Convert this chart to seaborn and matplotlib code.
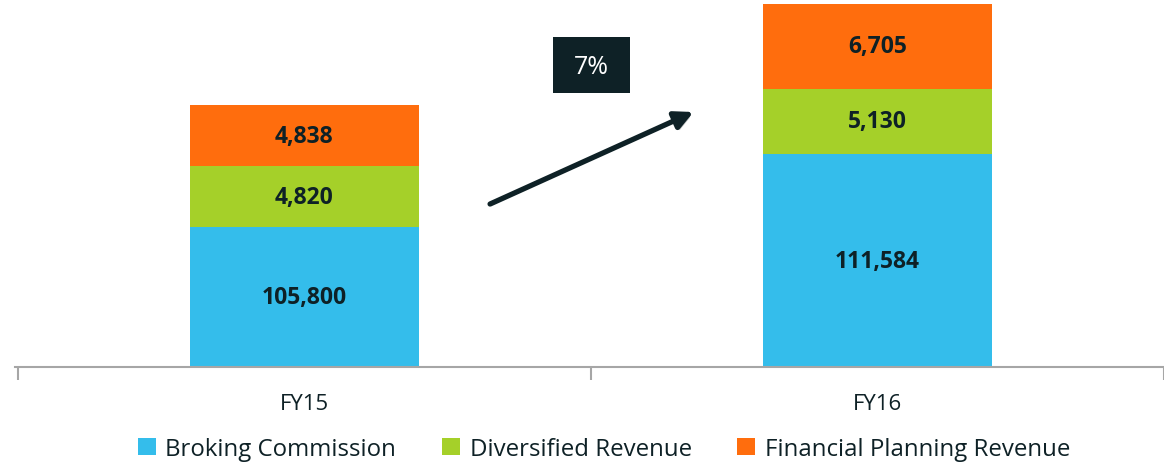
import matplotlib
matplotlib.use("Agg")
import matplotlib.pyplot as plt
import matplotlib.patheffects as pe
from matplotlib.patches import Rectangle, Patch
import seaborn as sns
import pandas as pd
import numpy as np

categories = ["FY15", "FY16"]
broking = [105800, 111584]
diversified = [4820, 5130]
planning = [4838, 6705]
series_names = ["Broking Commission", "Diversified Revenue", "Financial Planning Revenue"]
growth_label = "7%"

colors = ["#34BDEB", "#A5D029", "#FF6D0D"]
dark = "#0E2126"

sns.set_theme(style="white")
plt.rcParams["font.family"] = ["Open Sans", "DejaVu Sans"]

fig = plt.figure(figsize=(11.64, 4.64), dpi=100)
ax = fig.add_axes([15 / 1164, 96 / 464, 1149 / 1164, 368 / 464])

df = pd.DataFrame({"cat": categories, "b": broking, "d": diversified, "p": planning})
df["bd"] = df["b"] + df["d"]
df["bdp"] = df["bd"] + df["p"]

# stacked bars: draw totals back to front
for col, c in [("bdp", colors[2]), ("bd", colors[1]), ("b", colors[0])]:
    sns.barplot(data=df, x="cat", y=col, color=c, width=0.4, saturation=1,
                linewidth=0, edgecolor="none", ax=ax)

ax.set_ylim(94800, 123800)
ax.set_xlim(-0.505, 1.485)

# labels
bottom_y = ax.get_ylim()[0]
for i in range(len(categories)):
    segs = [(bottom_y, df["b"][i], df["b"][i]),
            (df["b"][i], df["bd"][i], df["d"][i]),
            (df["bd"][i], df["bdp"][i], df["p"][i])]
    for lo, hi, val in segs:
        ax.text(i, (lo + hi) / 2, f"{val:,}", ha="center", va="center",
                fontsize=16.5, fontweight="bold", color=dark)

# axes styling
for s in ["top", "right", "left"]:
    ax.spines[s].set_visible(False)
ax.spines["bottom"].set_color("#A6A6A6")
ax.spines["bottom"].set_linewidth(1.5)
ax.set_yticks([])
ax.set_ylabel("")
ax.set_xlabel("")
ax.set_xticks([0, 1])
ax.set_xticklabels(categories, fontsize=16, color=dark)
ax.tick_params(axis="x", which="major", length=0, pad=19)
ax.set_xticks([-0.5, 0.5, 1.5], minor=True)
ax.tick_params(axis="x", which="minor", bottom=True, length=9, width=1.5,
               color="#A6A6A6", direction="out")

# growth arrow
arr = ax.annotate("", xy=(0.679, 114894), xytext=(0.324, 107644),
                  arrowprops=dict(arrowstyle="-|>,head_length=0.9,head_width=0.45",
                                  lw=3.8, color=dark, shrinkA=0, shrinkB=0))
arr.arrow_patch.set_path_effects([pe.SimplePatchShadow(offset=(1.5, -2), alpha=0.25), pe.Normal()])

# growth box
fig.patches.append(Rectangle((553 / 1164, 1 - 94 / 464), 77 / 1164, 56 / 464,
                             transform=fig.transFigure, facecolor=dark, edgecolor="none"))
fig.text(591.5 / 1164, 1 - 67 / 464, growth_label, ha="center", va="center",
         fontsize=18, color="white")

# legend
handles = [Patch(facecolor=c, edgecolor="none") for c in colors]
fig.legend(handles, series_names, loc="center", bbox_to_anchor=(0.519, 1 - 450 / 464),
           ncol=3, frameon=False, fontsize=17.3, handlelength=0.75, handleheight=0.75,
           handletextpad=0.4, columnspacing=1.9, labelcolor=dark)

fig.savefig("out.png", dpi=100)
